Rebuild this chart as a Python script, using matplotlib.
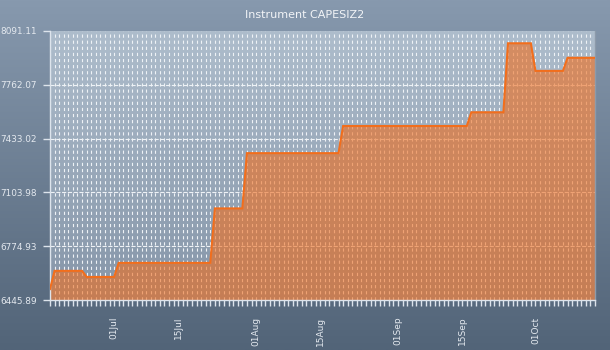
import numpy as np
import pandas as pd
import matplotlib
matplotlib.use("Agg")
import matplotlib.pyplot as plt
from matplotlib.colors import LinearSegmentedColormap

# ---- data -------------------------------------------------------------
title = "Instrument CAPESIZ2"
start_date = "2012-06-17"
levels = [6513, 6624, 6587, 6673, 7006, 7344, 7510, 7594, 8016, 7847, 7927]
run_days = [1, 7, 7, 21, 7, 21, 28, 8, 6, 7, 7]
y_ticks = [6445.89, 6774.93, 7103.98, 7433.02, 7762.07, 8091.11]
x_tick_dates = ["2012-07-01", "2012-07-15", "2012-08-01", "2012-08-15",
                "2012-09-01", "2012-09-15", "2012-10-01"]
x_tick_labels = ["01Jul", "15Jul", "01Aug", "15Aug", "01Sep", "15Sep", "01Oct"]

values = np.repeat(levels, run_days).astype(float)
dates = pd.date_range(start_date, periods=len(values), freq="D")

# ---- figure -----------------------------------------------------------
W, H = 610, 350
fig = plt.figure(figsize=(W / 100, H / 100), dpi=100)

# figure background gradient
bg = fig.add_axes([0, 0, 1, 1], zorder=-10)
bg_cmap = LinearSegmentedColormap.from_list("bg", ["#8799ae", "#526478"])
bg.imshow(np.linspace(0, 1, 256).reshape(-1, 1), aspect="auto", cmap=bg_cmap,
          extent=[0, 1, 0, 1], origin="upper")
bg.set_axis_off()

left, right, top, bottom = 50, 595, 31, 300
ax = fig.add_axes([left / W, (H - bottom) / H, (right - left) / W, (bottom - top) / H])
ax.set_facecolor("none")

# plot-area gradient
pa_cmap = LinearSegmentedColormap.from_list("pa", ["#aebdcc", "#8595a8"])
ax.imshow(np.linspace(0, 1, 256).reshape(-1, 1), aspect="auto", cmap=pa_cmap,
          extent=[0, 1, 0, 1], origin="upper", transform=ax.transAxes, zorder=0)

# grid lines
grid_col = "#eef2f6"
for d in dates:
    ax.axvline(d, color=grid_col, lw=0.8, dashes=(2.9, 2.6), zorder=1)
for yv in y_ticks[1:-1]:
    ax.axhline(yv, color=grid_col, lw=0.8, dashes=(3.8, 1.4), zorder=1)

# series
ax.fill_between(dates, values, y_ticks[0], color="#f06e1e", alpha=0.6, lw=0, zorder=2)
ax.plot(dates, values, color="#f26e1c", lw=1.5, zorder=3, solid_joinstyle="miter")

ax.set_xlim(dates[0], dates[-1])
ax.set_ylim(y_ticks[0], y_ticks[-1])

# axes styling
axis_col = "#dde4ec"
ax.spines["top"].set_visible(False)
ax.spines["right"].set_color("#8c9aaa")
ax.spines["right"].set_linewidth(1.0)
ax.spines["left"].set_color(axis_col)
ax.spines["bottom"].set_color(axis_col)
ax.spines["left"].set_linewidth(1.0)
ax.spines["bottom"].set_linewidth(1.0)

ax.set_yticks(y_ticks)
ax.set_yticklabels([f"{v:.2f}" for v in y_ticks])
ax.tick_params(axis="y", direction="out", length=5, width=1, color=axis_col,
               labelcolor="#e4e9ef", labelsize=6.4, pad=4.5)

ax.set_xticks(pd.to_datetime(x_tick_dates))
ax.set_xticklabels(x_tick_labels, rotation=90)
ax.set_xticks(dates, minor=True)
ax.tick_params(axis="x", which="major", direction="out", length=4, width=1,
               color=axis_col, labelcolor="#e4e9ef", labelsize=6.5, pad=8)
ax.tick_params(axis="x", which="minor", direction="out", length=4, width=1,
               color=axis_col)

fig.text(0.5, 1 - 15 / H, title, ha="center", va="center", color="#f2f4f7", fontsize=8)

fig.savefig("out.png", dpi=100)
